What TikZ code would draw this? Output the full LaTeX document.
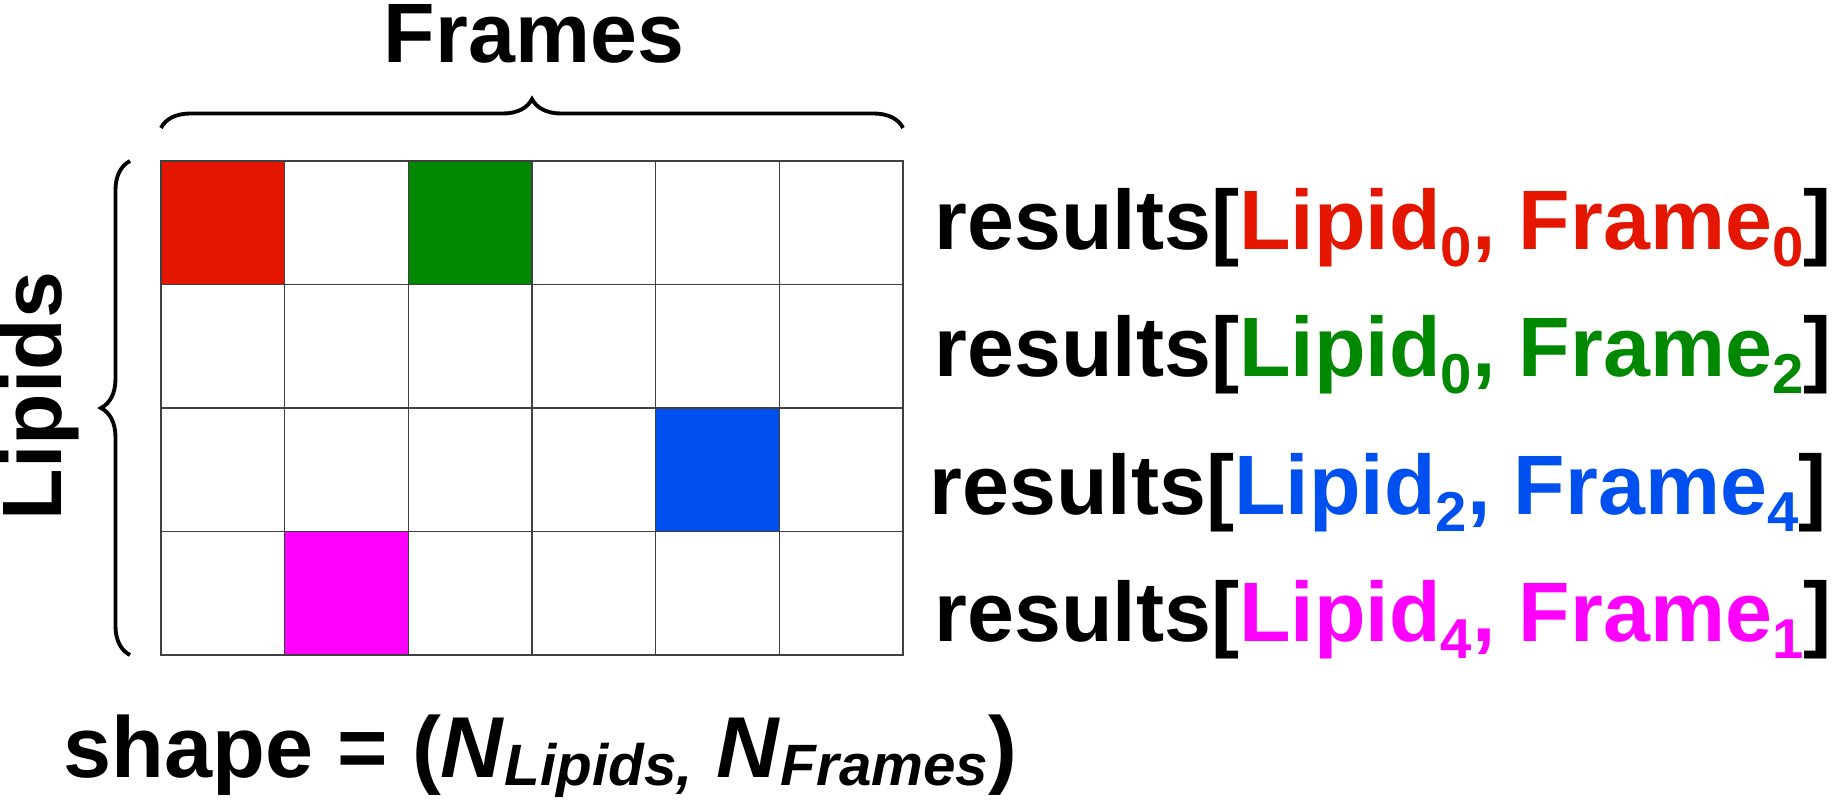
\documentclass[tikz,border=0pt]{standalone}
\usepackage{fontspec}
\setmainfont{Liberation Sans}
\usetikzlibrary{
  positioning,
  decorations.pathreplacing
}
\usepackage{xcolor}
\definecolor{lipred}{HTML}{E41600}
\definecolor{lipgreen}{HTML}{008800}
\definecolor{lipblue}{HTML}{0050EF}
\definecolor{lipmag}{HTML}{FF00FF}
\newcommand{\idx}[1]{\raisebox{-0.21em}{\fontsize{16pt}{18pt}\selectfont #1}}
\newcommand{\dimsub}[1]{\raisebox{-0.1em}{\fontsize{16.6pt}{18pt}\selectfont\itshape #1}}

\begin{document}
\begin{tikzpicture}[
  x=0.1mm, y=-0.1mm,
  cell/.style={draw=black!75, line width=0.45pt, minimum width=12.37mm,
               minimum height=12.35mm, inner sep=0pt, outer sep=0pt},
  axis/.style={font=\fontsize{24}{28}\selectfont\bfseries, inner sep=0pt, anchor=base},
  result/.style={font=\fontsize{24}{28}\selectfont\bfseries, inner sep=0pt, anchor=base west},
  bracket/.style={decorate, decoration={brace, amplitude=2.9mm}, line width=1.1pt}
]
  \useasboundingbox (0,0) rectangle (1842,804);

  % Grid
  \foreach \r in {0,...,3}
    \foreach \c in {0,...,5}
      \node[cell] (c\r\c) at ({161+123.67*(\c+0.5)}, {161+123.5*(\r+0.5)}) {};

  % Picked entries
  \node[cell, fill=lipred] (hit0) at (c00) {};
  \node[cell, fill=lipgreen] (hit1) at (c02) {};
  \node[cell, fill=lipblue] (hit2) at (c24) {};
  \node[cell, fill=lipmag] (hit3) at (c31) {};

  % Braces and axis names
  \draw[bracket] ([yshift=3.3mm]c00.north west) -- ([yshift=3.3mm]c05.north east);
  \draw[bracket] ([xshift=-3.1mm]c30.south west) -- ([xshift=-3.1mm]c00.north west);
  \node[axis] (frames) at (534,62) {Frames};
  \node[axis, rotate=90] (lipids) at (62,396) {Lipids};

  % Indexing
  \node[result] (res0) at (934,249) {results[\textcolor{lipred}{Lipid\idx{0}, Frame\idx{0}}]};
  \node[result] (res1) at (934,376) {results[\textcolor{lipgreen}{Lipid\idx{0}, Frame\idx{2}}]};
  \node[result] (res2) at (929,514) {results[\textcolor{lipblue}{Lipid\idx{2}, Frame\idx{4}}]};
  \node[result] (res3) at (934,641) {results[\textcolor{lipmag}{Lipid\idx{4}, Frame\idx{1}}]};

  % Shape
  \node[result, font=\fontsize{24.6}{28}\selectfont\bfseries] (shape) at (63,777)
    {shape = (\textit{N}\dimsub{Lipids,} \textit{N}\dimsub{Frames})};
\end{tikzpicture}
\end{document}
